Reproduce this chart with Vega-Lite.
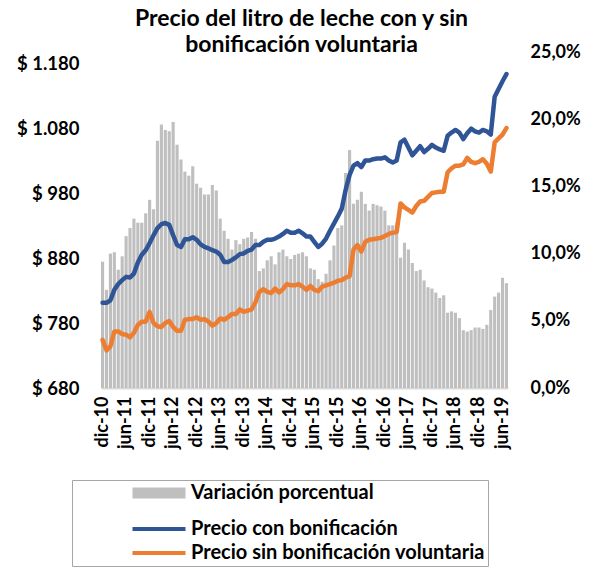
{
  "$schema": "https://vega.github.io/schema/vega-lite/v6.json",
  "width": 407,
  "height": 336,
  "autosize": {"type": "none"},
  "padding": {"left": 101, "top": 52, "right": 87, "bottom": 179},
  "background": "white",
  "config": {"view": {"stroke": null}, "font": "Lato"},
  "title": {
    "text": ["Precio del litro de leche con y sin", "bonificación voluntaria"],
    "font": "Lato", "fontSize": 23, "fontWeight": "bold", "color": "#000000",
    "anchor": "middle", "lineHeight": 26, "offset": 0, "dx": -3, "dy": 14
  },
  "data": {"values": [
    {"mes":"dic-10","v":9.4,"c":811,"s":754},
    {"mes":"ene-11","v":7.3,"c":811,"s":738},
    {"mes":"feb-11","v":10.0,"c":815,"s":744},
    {"mes":"mar-11","v":10.1,"c":831,"s":767},
    {"mes":"abr-11","v":8.8,"c":840,"s":767},
    {"mes":"may-11","v":9.8,"c":846,"s":763},
    {"mes":"jun-11","v":11.3,"c":851,"s":762},
    {"mes":"jul-11","v":11.9,"c":850,"s":758},
    {"mes":"ago-11","v":12.6,"c":856,"s":765},
    {"mes":"sep-11","v":12.3,"c":873,"s":777},
    {"mes":"oct-11","v":12.3,"c":885,"s":782},
    {"mes":"nov-11","v":13.0,"c":892,"s":782},
    {"mes":"dic-11","v":14.0,"c":903,"s":797},
    {"mes":"ene-12","v":13.3,"c":915,"s":780},
    {"mes":"feb-12","v":18.4,"c":926,"s":775},
    {"mes":"mar-12","v":19.6,"c":932,"s":774},
    {"mes":"abr-12","v":19.2,"c":934,"s":780},
    {"mes":"may-12","v":19.1,"c":931,"s":783},
    {"mes":"jun-12","v":19.8,"c":915,"s":774},
    {"mes":"jul-12","v":18.1,"c":900,"s":768},
    {"mes":"ago-12","v":17.0,"c":897,"s":768},
    {"mes":"sep-12","v":16.1,"c":909,"s":785},
    {"mes":"oct-12","v":15.8,"c":909,"s":786},
    {"mes":"nov-12","v":16.5,"c":912,"s":786},
    {"mes":"dic-12","v":15.2,"c":908,"s":789},
    {"mes":"ene-13","v":14.9,"c":901,"s":785},
    {"mes":"feb-13","v":14.4,"c":897,"s":786},
    {"mes":"mar-13","v":14.4,"c":895,"s":782},
    {"mes":"abr-13","v":15.1,"c":892,"s":776},
    {"mes":"may-13","v":14.7,"c":890,"s":780},
    {"mes":"jun-13","v":12.6,"c":885,"s":787},
    {"mes":"jul-13","v":11.7,"c":874,"s":785},
    {"mes":"ago-13","v":11.1,"c":874,"s":789},
    {"mes":"sep-13","v":10.3,"c":877,"s":794},
    {"mes":"oct-13","v":11.0,"c":881,"s":794},
    {"mes":"nov-13","v":10.7,"c":886,"s":801},
    {"mes":"dic-13","v":11.1,"c":887,"s":797},
    {"mes":"ene-14","v":11.2,"c":891,"s":799},
    {"mes":"feb-14","v":11.6,"c":893,"s":801},
    {"mes":"mar-14","v":11.1,"c":900,"s":812},
    {"mes":"abr-14","v":8.7,"c":900,"s":828},
    {"mes":"may-14","v":8.9,"c":905,"s":832},
    {"mes":"jun-14","v":9.5,"c":908,"s":828},
    {"mes":"jul-14","v":9.8,"c":908,"s":826},
    {"mes":"ago-14","v":9.2,"c":910,"s":833},
    {"mes":"sep-14","v":10.1,"c":913,"s":827},
    {"mes":"oct-14","v":10.3,"c":917,"s":832},
    {"mes":"nov-14","v":9.8,"c":922,"s":840},
    {"mes":"dic-14","v":9.6,"c":919,"s":838},
    {"mes":"ene-15","v":9.9,"c":919,"s":838},
    {"mes":"feb-15","v":10.0,"c":922,"s":840},
    {"mes":"mar-15","v":10.1,"c":918,"s":836},
    {"mes":"abr-15","v":9.8,"c":913,"s":831},
    {"mes":"may-15","v":8.9,"c":913,"s":837},
    {"mes":"jun-15","v":8.8,"c":905,"s":831},
    {"mes":"jul-15","v":8.1,"c":897,"s":829},
    {"mes":"ago-15","v":7.9,"c":902,"s":836},
    {"mes":"sep-15","v":8.5,"c":910,"s":838},
    {"mes":"oct-15","v":9.5,"c":922,"s":840},
    {"mes":"nov-15","v":10.6,"c":933,"s":842},
    {"mes":"dic-15","v":11.9,"c":944,"s":845},
    {"mes":"ene-16","v":12.1,"c":956,"s":846},
    {"mes":"feb-16","v":16.0,"c":985,"s":850},
    {"mes":"mar-16","v":17.7,"c":1008,"s":852},
    {"mes":"abr-16","v":13.7,"c":1022,"s":893},
    {"mes":"may-16","v":14.0,"c":1026,"s":900},
    {"mes":"jun-16","v":14.6,"c":1020,"s":890},
    {"mes":"jul-16","v":13.7,"c":1030,"s":905},
    {"mes":"ago-16","v":13.2,"c":1030,"s":908},
    {"mes":"sep-16","v":13.7,"c":1032,"s":909},
    {"mes":"oct-16","v":13.6,"c":1033,"s":910},
    {"mes":"nov-16","v":13.5,"c":1033,"s":911},
    {"mes":"dic-16","v":13.2,"c":1035,"s":914},
    {"mes":"ene-17","v":12.1,"c":1030,"s":917},
    {"mes":"feb-17","v":12.1,"c":1027,"s":919},
    {"mes":"mar-17","v":12.3,"c":1030,"s":920},
    {"mes":"abr-17","v":9.7,"c":1058,"s":964},
    {"mes":"may-17","v":10.8,"c":1062,"s":958},
    {"mes":"jun-17","v":10.3,"c":1050,"s":954},
    {"mes":"jul-17","v":9.3,"c":1038,"s":950},
    {"mes":"ago-17","v":8.7,"c":1045,"s":960},
    {"mes":"sep-17","v":8.8,"c":1052,"s":967},
    {"mes":"oct-17","v":8.0,"c":1043,"s":968},
    {"mes":"nov-17","v":7.5,"c":1048,"s":974},
    {"mes":"dic-17","v":7.4,"c":1054,"s":980},
    {"mes":"ene-18","v":7.1,"c":1050,"s":981},
    {"mes":"feb-18","v":6.7,"c":1047,"s":982},
    {"mes":"mar-18","v":6.9,"c":1045,"s":982},
    {"mes":"abr-18","v":5.6,"c":1068,"s":1012},
    {"mes":"may-18","v":5.7,"c":1073,"s":1018},
    {"mes":"jun-18","v":5.6,"c":1077,"s":1022},
    {"mes":"jul-18","v":5.2,"c":1073,"s":1022},
    {"mes":"ago-18","v":4.3,"c":1063,"s":1024},
    {"mes":"sep-18","v":4.2,"c":1072,"s":1034},
    {"mes":"oct-18","v":4.3,"c":1079,"s":1028},
    {"mes":"nov-18","v":4.5,"c":1075,"s":1026},
    {"mes":"dic-18","v":4.5,"c":1073,"s":1028},
    {"mes":"ene-19","v":4.4,"c":1077,"s":1032},
    {"mes":"feb-19","v":4.7,"c":1075,"s":1025},
    {"mes":"mar-19","v":5.8,"c":1070,"s":1013},
    {"mes":"abr-19","v":6.8,"c":1128,"s":1058},
    {"mes":"may-19","v":7.1,"c":1140,"s":1064},
    {"mes":"jun-19","v":8.2,"c":1152,"s":1070},
    {"mes":"jul-19","v":7.8,"c":1163,"s":1080}
  ]},
  "layer": [
    {
      "mark": {"type": "bar"},
      "encoding": {
        "x": {
          "field": "mes", "type": "nominal", "sort": null,
          "scale": {"paddingInner": 0.2, "paddingOuter": 0},
          "axis": {
            "values": ["dic-10","jun-11","dic-11","jun-12","dic-12","jun-13","dic-13","jun-14","dic-14","jun-15","dic-15","jun-16","dic-16","jun-17","dic-17","jun-18","dic-18","jun-19"],
            "labelAngle": -90, "title": null, "ticks": false, "labelOverlap": false,
            "domainColor": "#d9d9d9", "domainWidth": 2, "labelPadding": 8,
            "labelFont": "Lato", "labelFontSize": 18, "labelFontWeight": "bold", "labelColor": "#000000"
          }
        },
        "y": {
          "field": "v", "type": "quantitative",
          "scale": {"domain": [0, 25], "nice": false, "zero": true},
          "axis": {
            "orient": "right", "values": [0, 5, 10, 15, 20, 25], "title": null,
            "grid": false, "domain": false, "ticks": false, "labelPadding": 22,
            "labelExpr": "replace(format(datum.value, '.1f'), '.', ',') + '%'",
            "labelFont": "Lato", "labelFontSize": 18, "labelFontWeight": "bold", "labelColor": "#000000"
          }
        },
        "color": {
          "datum": "var", "type": "nominal",
          "scale": {"domain": ["var", "c", "s"], "range": ["#BFBFBF", "#2F5597", "#ED7D31"]},
          "legend": {
            "orient": "none", "legendX": -29, "legendY": 428, "title": null,
            "direction": "vertical", "symbolType": "M-2.65,0H2.65", "symbolSize": 400,
            "symbolStrokeWidth": 4, "symbolOffset": 74, "padding": 3, "labelLimit": 500,
            "strokeColor": "#A6A6A6", "rowPadding": 4, "labelOffset": 22,
            "labelFont": "Lato", "labelFontSize": 20, "labelFontWeight": "bold", "labelColor": "#000000",
            "labelExpr": "datum.value === 'var' ? 'Variación porcentual' : datum.value === 'c' ? 'Precio con bonificación' : 'Precio sin bonificación voluntaria'",
            "encode": {"symbols": {"update": {"strokeWidth": {"signal": "datum.value === 'var' ? 11 : 4"}, "strokeCap": {"value": "butt"}}}}
          }
        }
      }
    },
    {
      "transform": [{"fold": ["c", "s"], "as": ["serie", "precio"]}],
      "mark": {"type": "line", "strokeWidth": 4.5, "strokeCap": "round", "strokeJoin": "round"},
      "encoding": {
        "x": {"field": "mes", "type": "nominal", "sort": null},
        "y": {
          "field": "precio", "type": "quantitative",
          "scale": {"domain": [680, 1197], "nice": false, "zero": false},
          "axis": {
            "orient": "left", "values": [680, 780, 880, 980, 1080, 1180], "title": null,
            "grid": false, "domain": false, "ticks": false, "labelPadding": 22,
            "labelExpr": "'$ ' + replace(format(datum.value, ',.0f'), ',', '.')",
            "labelFont": "Lato", "labelFontSize": 18.5, "labelFontWeight": "bold", "labelColor": "#000000"
          }
        },
        "color": {
          "field": "serie", "type": "nominal",
          "legend": {
            "orient": "none", "legendX": -29, "legendY": 428, "title": null,
            "direction": "vertical", "symbolType": "M-2.65,0H2.65", "symbolSize": 400,
            "symbolStrokeWidth": 4, "symbolOffset": 74, "padding": 3, "labelLimit": 500,
            "strokeColor": "#A6A6A6", "rowPadding": 4, "labelOffset": 22,
            "labelFont": "Lato", "labelFontSize": 20, "labelFontWeight": "bold", "labelColor": "#000000",
            "labelExpr": "datum.value === 'var' ? 'Variación porcentual' : datum.value === 'c' ? 'Precio con bonificación' : 'Precio sin bonificación voluntaria'",
            "encode": {"symbols": {"update": {"strokeWidth": {"signal": "datum.value === 'var' ? 11 : 4"}, "strokeCap": {"value": "butt"}}}}
          }
        }
      }
    }
  ],
  "resolve": {"scale": {"y": "independent"}, "axis": {"y": "independent"}}
}
